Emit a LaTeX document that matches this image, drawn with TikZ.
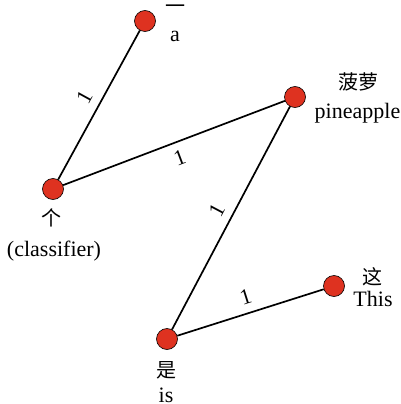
\documentclass[tikz,border=0pt]{standalone}
\usepackage{fontspec}
\setmainfont{Liberation Serif}
\newfontfamily\cjk{Noto Sans CJK SC}
\definecolor{nodered}{RGB}{222,50,32}
\begin{document}
\begin{tikzpicture}[x=1pt,y=-1pt,
  dot/.style={circle,draw=black,line width=0.6pt,fill=nodered,minimum size=21pt,inner sep=0pt},
  edge/.style={line width=1.7pt,black},
  elab/.style={font=\fontsize{22}{26}\selectfont,inner sep=8pt,sloped},
  cjkl/.style={font=\cjk\fontsize{20}{24}\selectfont,inner sep=0pt,anchor=center},
  enl/.style={font=\fontsize{22}{26}\selectfont,inner sep=0pt,anchor=base}]
\useasboundingbox (0,0) rectangle (400,404);
\node[dot] (n1) at (145,21) {};
\node[dot] (n2) at (295,97) {};
\node[dot] (n3) at (53,189) {};
\node[dot] (n4) at (334,286) {};
\node[dot] (n5) at (167,339) {};
\draw[edge] (n3) -- node[elab,above] {1} (n1);
\draw[edge] (n3) -- node[elab,below] {1} (n2);
\draw[edge] (n5) -- node[elab,above] {1} (n2);
\draw[edge] (n5) -- node[elab,above] {1} (n4);
\node[cjkl] (c1) at (175,9) {一};
\node[enl] (e1) at (175,42) {a};
\node[cjkl] (c2) at (358,82) {菠萝};
\node[enl] (e2) at (357.5,118) {pineapple};
\node[cjkl] (c3) at (51,218) {个};
\node[enl] (e3) at (54,256) {(classifier)};
\node[cjkl] (c4) at (372,277) {这};
\node[enl] (e4) at (373,306.5) {This};
\node[cjkl] (c5) at (166,370) {是};
\node[enl] (e5) at (166,402) {is};
\end{tikzpicture}
\end{document}
